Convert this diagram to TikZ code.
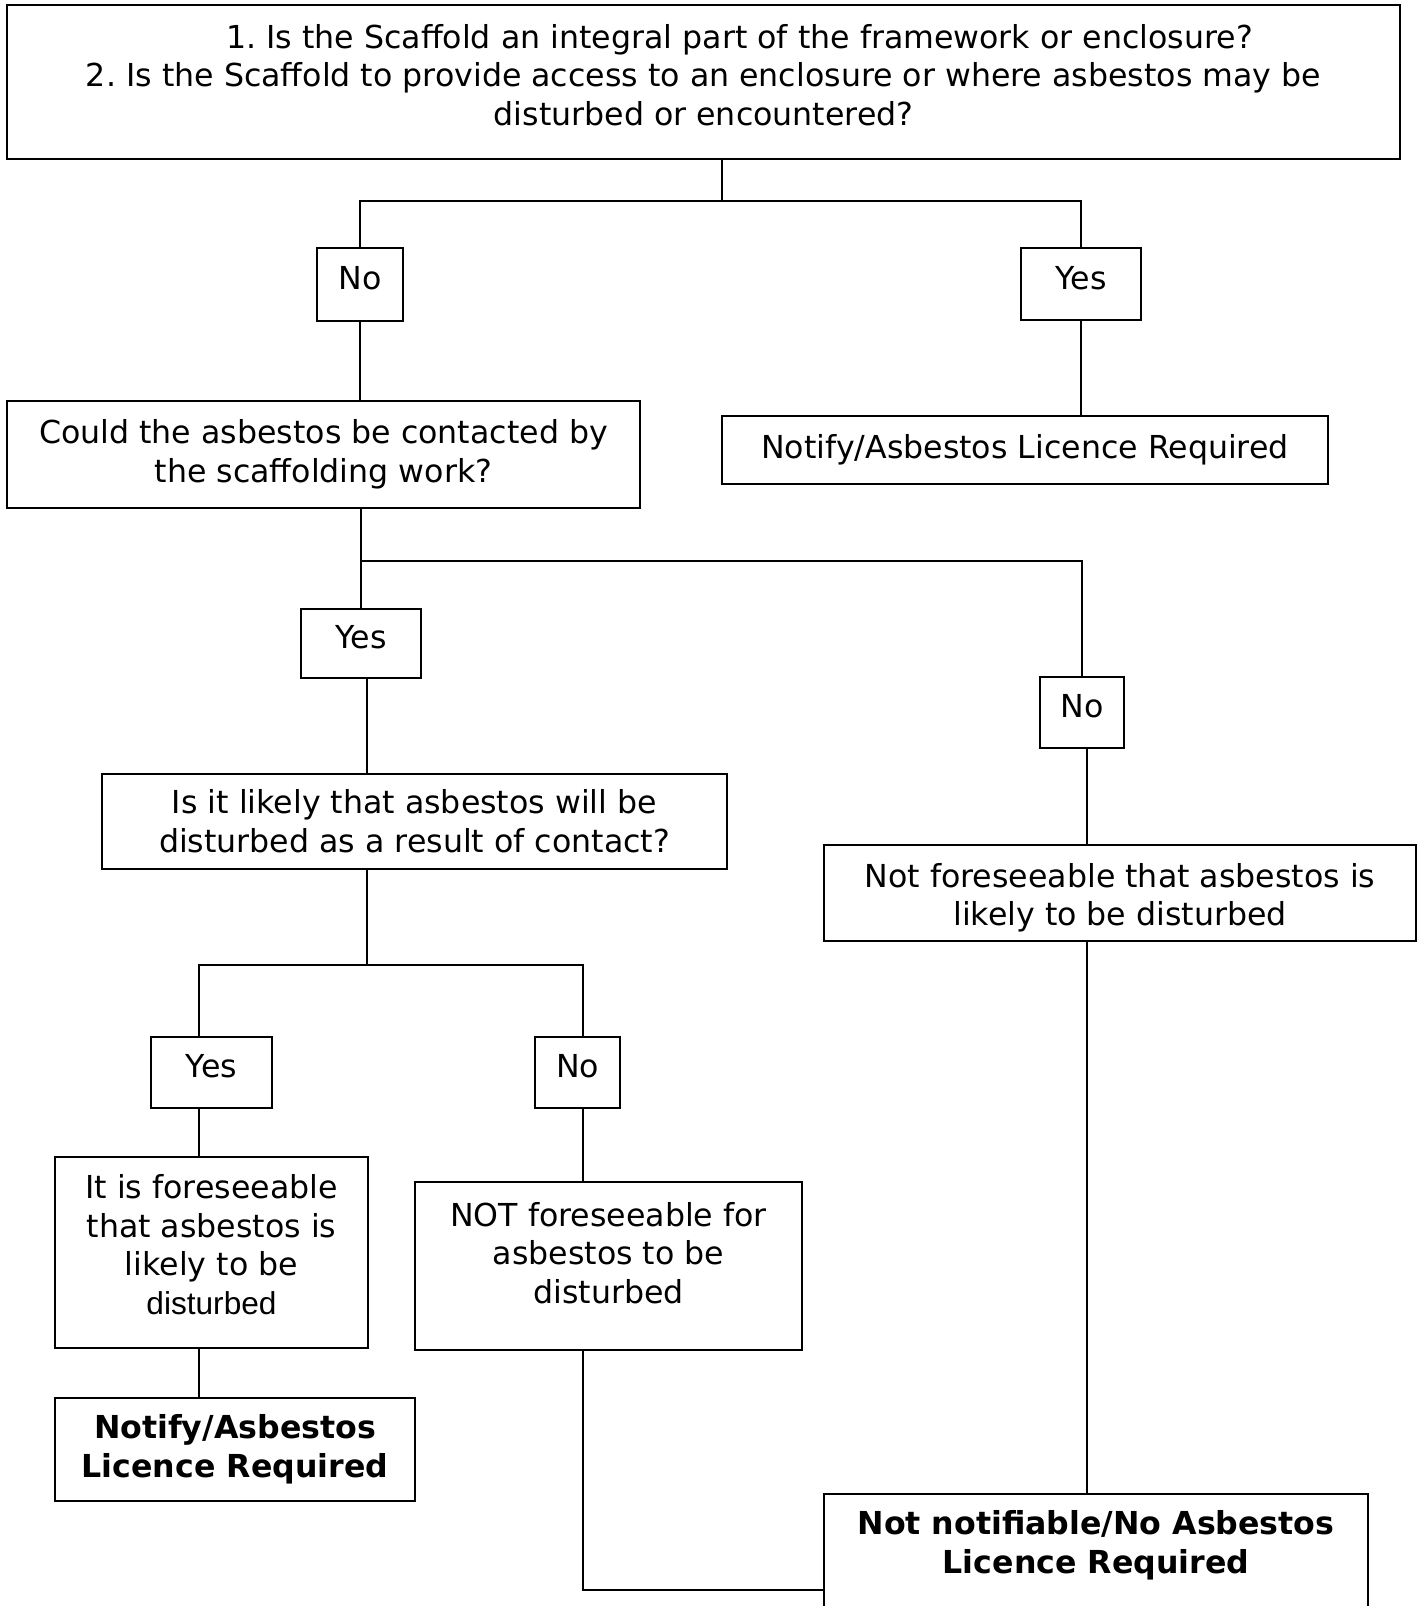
\documentclass[tikz,border=0pt]{standalone}
\usepackage{fontspec}
\setmainfont{DejaVu Sans}
\newfontfamily\arialfont{Liberation Sans}
\frenchspacing
\usetikzlibrary{calc}

\begin{document}
\begin{tikzpicture}
  [x=0.02cm, y=-0.02cm, line width=1.1pt,
  font=\fontsize{18}{22}\selectfont,
  question/.style={rectangle, draw=black, line width=1.1pt, align=center, inner sep=0pt},
  answer/.style={rectangle, draw=black, line width=1.1pt, inner sep=0pt, text height=12pt, text depth=6pt},
  outcome/.style={rectangle, draw=black, line width=1.1pt, align=center, inner sep=0pt, font=\fontsize{18}{22}\selectfont\bfseries}]
  \useasboundingbox (0,0) rectangle (1418,1606);

  \node (scaffold) [question, minimum width=27.86cm, minimum height=3.08cm] at (703.5,82) {\hspace*{1.44cm}1. Is the Scaffold an integral part of the framework or enclosure?\\2. Is the Scaffold to provide access to an enclosure or where asbestos may be\\disturbed or encountered?\rule[-8pt]{0pt}{8pt}};
  \node (no-a) [answer, minimum width=1.72cm, minimum height=1.46cm] at (360,284.5) {No};
  \node (yes-a) [answer, minimum width=2.4cm, minimum height=1.44cm] at (1081,284) {Yes};
  \node (contact) [question, minimum width=12.66cm, minimum height=2.14cm] at (323.5,454.5) {Could the asbestos be contacted by\\the scaffolding work?};
  \node (notify-a) [question, minimum width=12.12cm, minimum height=1.36cm] at (1025,450) {Notify/Asbestos Licence Required};

% Scaffold question
\coordinate (split-a) at (722,201);
\draw (scaffold.south -| split-a) -- (split-a);
\draw (no-a) |- (split-a) -| (yes-a);
\draw (no-a) -- (no-a |- contact.north);
\draw (yes-a) -- (yes-a |- notify-a.north);

% Contact question
\node (yes-b) [answer, minimum width=2.4cm, minimum height=1.38cm] at (361,643.5) {Yes};
\node (no-b) [answer, minimum width=1.68cm, minimum height=1.42cm] at (1082,712.5) {No};
\node (likely) [question, minimum width=12.5cm, minimum height=1.9cm] at (414.5,821.5) {Is it likely that asbestos will be\\disturbed as a result of contact?};
\node (not-likely) [question, minimum width=11.84cm, minimum height=1.92cm] at (1120,893) {\rule{0pt}{19pt}Not foreseeable that asbestos is\\likely to be disturbed};
\coordinate (split-b) at (361,561);
\draw (contact.south -| split-b) -- (split-b) -- (yes-b);
\draw (split-b) -| (no-b);

% Likely question
\node (yes-c) [answer, minimum width=2.42cm, minimum height=1.42cm] at (211.5,1072.5) {Yes};
\node (no-c) [answer, minimum width=1.7cm, minimum height=1.42cm] at (577.5,1072.5) {No};
\node (foreseeable) [question, minimum width=6.26cm, minimum height=3.82cm] at (211.5,1252.5) {It is foreseeable\\that asbestos is\\likely to be\\{\arialfont disturbed}\rule[-9pt]{0pt}{9pt}};
\node (not-foreseeable) [question, minimum width=7.74cm, minimum height=3.36cm] at (608.5,1266) {NOT foreseeable for\\asbestos to be\\disturbed\rule[-15pt]{0pt}{15pt}};
\node (notify-b) [outcome, minimum width=7.2cm, minimum height=2.06cm] at (235,1449.5) {Notify/Asbestos\\Licence Required};
\node (not-notifiable) [outcome, minimum width=10.88cm, anchor=north, inner ysep=0.33cm] at (1096,1493) {\parbox[t][3cm][t]{10cm}{\centering Not notifiable/No Asbestos\\Licence Required}};
\coordinate (split-c) at (367,965);
\coordinate (left-c) at (199,965);
\coordinate (right-c) at (583,965);
\draw (yes-b.south -| split-c) -- (likely.north -| split-c);
\draw (likely.south -| split-c) -- (split-c);
\draw (yes-c.north -| left-c) -- (left-c) -- (right-c) -- (no-c.north -| right-c);
\draw (yes-c.south -| left-c) -- (foreseeable.north -| left-c);
\draw (foreseeable.south -| left-c) -- (notify-b.north -| left-c);
\draw (no-c.south -| right-c) -- (not-foreseeable.north -| right-c);

% Outcomes
\coordinate (drop-b) at (1087,1493);
\coordinate (corner-c) at (583,1590);
\draw (no-b.south -| drop-b) -- (not-likely.north -| drop-b);
\draw (not-likely.south -| drop-b) -- (not-notifiable.north -| drop-b);
\draw (not-foreseeable.south -| corner-c) -- (corner-c) -- (not-notifiable.west |- corner-c);
\end{tikzpicture}
\end{document}
